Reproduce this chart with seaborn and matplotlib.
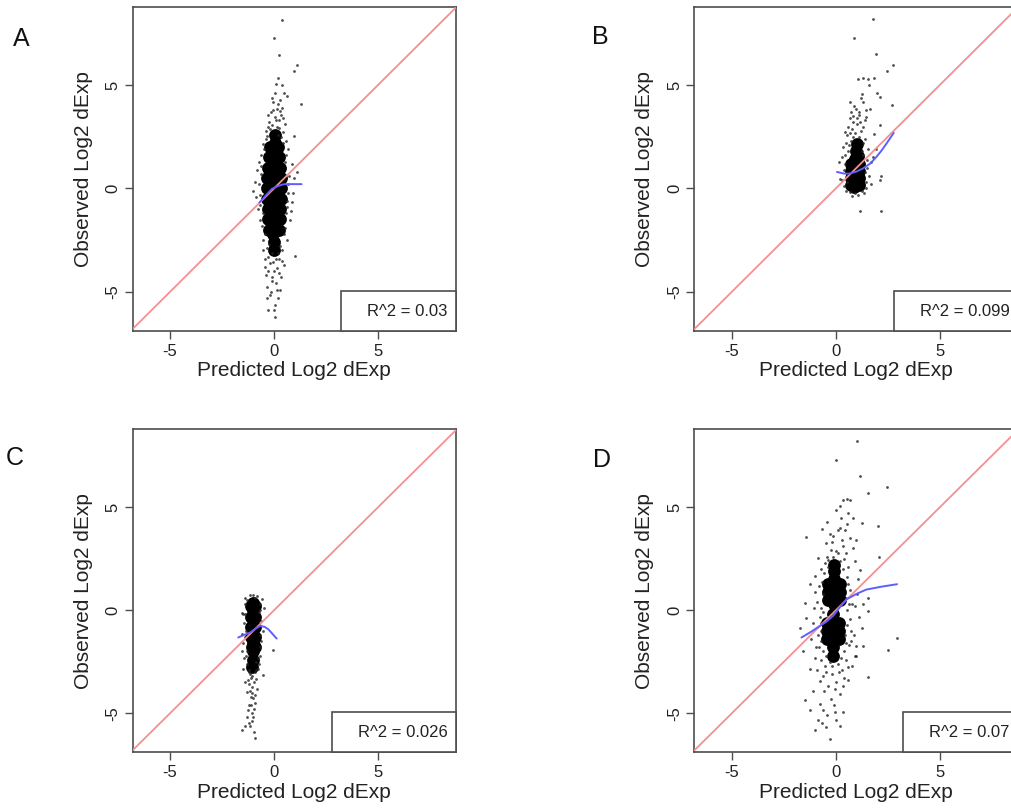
import matplotlib
matplotlib.use("Agg")
import matplotlib.pyplot as plt
import seaborn as sns
import pandas as pd
from matplotlib.patches import Rectangle
from matplotlib.transforms import offset_copy

# ---------------------------------------------------------------- data
panel_letters = ["A", "B", "C", "D"]
r2_labels = ["R^2 = 0.03", "R^2 = 0.099", "R^2 = 0.026", "R^2 = 0.07"]
ticks = [-5, 0, 5]

# dense centre of each cloud (predicted, observed)
a_core = [(0.0, -3.0), (0.0, -2.6), (-0.05, -2.2), (0.0, -1.8), (0.0, -1.4), (0.0, -1.0),
          (0.0, -0.6), (0.0, -0.2), (0.0, 0.2), (0.0, 0.6), (0.0, 1.0), (0.0, 1.4), (0.0, 1.8),
          (0.05, 2.2), (0.05, 2.6),
          (-0.25, -2.0), (-0.28, -1.5), (-0.3, -1.0), (-0.33, -0.5), (-0.33, 0.0), (-0.33, 0.5),
          (-0.3, 1.0), (-0.25, 1.5), (-0.18, 2.0),
          (0.25, -2.0), (0.28, -1.5), (0.3, -1.0), (0.33, -0.5), (0.33, 0.0), (0.33, 0.5),
          (0.3, 1.0), (0.25, 1.5), (0.2, 2.0)]
b_core = [(0.9, 0.05), (0.9, 0.4), (0.9, 0.75), (0.92, 1.1), (0.95, 1.45), (0.97, 1.8), (1.0, 2.15),
          (0.72, 0.15), (0.72, 0.5), (0.72, 0.85), (0.75, 1.2),
          (1.1, 0.15), (1.1, 0.5), (1.1, 0.85), (1.1, 1.2), (1.08, 1.55)]
c_core = [(-1.0, 0.35), (-1.0, 0.0), (-1.0, -0.4), (-1.0, -0.8), (-1.0, -1.2), (-1.0, -1.6),
          (-1.0, -2.0), (-1.0, -2.4), (-1.05, -2.75),
          (-1.1, 0.2), (-1.1, -0.3), (-1.1, -0.8), (-1.1, -1.3), (-1.08, -1.8),
          (-0.9, 0.2), (-0.9, -0.3), (-0.9, -0.8), (-0.9, -1.3), (-0.92, -1.8)]
d_core = [(-0.1, 0.3), (-0.1, 0.7), (-0.1, 1.1), (-0.1, 1.5), (-0.1, 1.9), (-0.38, 0.5),
          (-0.38, 0.9), (-0.38, 1.3), (0.2, 0.5), (0.2, 0.9), (0.2, 1.3), (-0.1, 2.2),
          (-0.15, -0.2), (-0.15, -0.6), (-0.15, -1.0), (-0.15, -1.4), (-0.15, -1.8),
          (-0.42, -0.6), (-0.42, -1.0), (-0.42, -1.4), (0.15, -0.6), (0.15, -1.0), (0.15, -1.4),
          (-0.15, -2.2)]

# sparser genes around each centre
a_pts = [(0.37, 8.18), (0.02, 7.28), (0.24, 6.47), (1.09, 5.96), (0.96, 5.67), (1.30, 4.07),
         (0.96, 2.54), (0.21, 5.34), (0.10, 5.07), (0.37, 4.99), (0.48, 4.64), (-0.03, 4.18),
         (0.16, 3.86), (-0.30, 3.54), (0.26, 3.30), (-0.11, 3.06), (-0.51, 2.17), (0.45, 2.73),
         (0.64, 4.50), (0.05, 4.60), (0.30, 4.30), (-0.15, 3.70), (0.40, 3.90), (0.05, 3.45),
         (-0.25, 3.20), (0.35, 3.55), (0.55, 3.10), (-0.40, 2.80), (0.15, 3.00), (0.60, 2.30),
         (-0.60, 1.60), (0.70, 1.90), (-0.35, 2.55), (0.25, 2.95), (-0.10, 4.40), (0.20, 4.10),
         (-0.80, 0.90), (0.85, 1.20), (-0.90, 0.30), (0.95, 0.50), (-0.85, -0.40), (0.90, -0.20),
         (-0.75, -1.00), (0.80, -1.10), (0.65, -0.90), (-0.70, 1.30), (1.10, 0.80), (-1.00, -0.10),
         (1.01, -3.27), (-0.43, -3.79), (0.13, -3.86), (-0.11, -4.27), (-0.35, -4.75),
         (0.29, -4.91), (-0.19, -5.15), (0.05, -5.64), (-0.27, -5.88), (0.05, -6.20),
         (-0.51, -2.98), (-0.54, -2.50), (0.61, -2.50), (0.53, -1.93), (0.77, -1.53),
         (-0.67, -1.53), (0.85, -0.65), (-0.30, -3.30), (0.25, -3.40), (0.40, -3.00),
         (-0.20, -3.60), (0.00, -4.00), (0.35, -4.30), (-0.40, -4.20), (0.10, -4.60),
         (-0.15, -5.00), (0.20, -5.30), (-0.45, -3.40), (0.50, -3.70), (0.30, -2.80),
         (-0.25, -2.70), (-0.62, 0.70), (0.66, 0.20), (-0.66, -0.30), (0.62, -0.60),
         (-0.55, -1.20), (0.55, 1.30), (-0.50, 1.90), (0.45, 2.20), (-0.45, -2.20), (0.50, -2.20),
         (-0.20, 2.90), (0.20, 2.60), (0.10, -3.40), (-0.10, -3.10), (-0.70, 0.20),
         (0.72, 0.60), (-0.68, -0.80), (0.70, -0.20), (-0.60, 1.10), (0.60, 1.60),
         (-0.58, -1.80), (0.58, -1.20), (-0.40, 2.40), (0.35, 2.50), (-0.30, 3.00),
         (0.10, 3.30), (0.45, 3.40), (-0.05, 3.80), (0.30, 3.75), (-0.35, -2.90),
         (0.20, -3.10), (-0.05, -3.55), (0.40, -3.50), (-0.30, -4.00), (0.25, -4.10),
         (-0.10, -4.50), (0.15, -4.90), (-0.35, -5.30), (0.00, -5.90)]
b_pts = [(1.80, 8.20), (0.87, 7.30), (1.92, 6.50), (2.47, 5.70), (2.76, 5.96), (1.15, -1.08),
         (2.20, -1.08), (1.07, 5.28), (1.31, 5.34), (1.55, 5.28), (1.83, 5.34), (1.60, 4.99),
         (1.24, 4.59), (1.31, 4.18), (1.99, 4.64), (2.12, 4.43), (2.73, 4.06), (1.12, 3.54),
         (0.83, 3.22), (1.48, 3.46), (1.63, 3.86), (0.43, 2.73), (2.12, 3.06), (1.83, 2.66),
         (0.67, 4.18), (0.99, 3.86), (0.16, 1.29), (0.19, 0.48), (2.20, 0.61), (2.12, 0.40),
         (1.72, 1.29), (1.96, 1.93), (1.07, -0.32), (0.67, -0.16), (0.40, 0.90), (0.45, 1.60),
         (0.35, 2.00), (1.45, 0.30), (1.50, 1.00), (1.55, 1.90), (1.40, 2.40), (0.55, 2.60),
         (1.20, 2.80), (0.80, 2.90), (1.00, 3.10), (0.70, 3.40), (1.30, 3.00), (0.50, -0.10),
         (1.35, -0.20), (0.80, -0.35), (1.60, 0.60), (0.30, 0.40), (1.70, 0.20), (0.60, 3.00),
         (1.10, 3.70), (0.90, 4.00), (1.45, 3.80), (1.20, 4.40), (0.75, 2.30), (1.30, 2.20),
         (1.50, 1.40), (0.45, 1.20), (1.80, 1.50), (0.30, 1.50), (0.60, 1.80), (1.25, 1.80),
         (0.85, 2.50), (1.10, 2.50), (0.50, 2.20), (1.40, 0.80), (0.95, -0.20), (1.25, -0.10),
         (0.55, 0.30), (1.00, 3.40), (0.75, 3.70), (1.40, 3.30), (0.40, 0.10), (1.45, 0.00),
         (0.62, 2.10), (1.32, 1.60), (0.95, 2.70), (0.70, 2.70), (1.15, 3.20), (0.85, 3.50)]
c_pts = [(-0.91, -6.20), (-1.55, -5.80), (-1.39, -5.64), (-1.19, -5.48), (-1.07, -5.00),
         (-1.24, -4.84), (-1.00, -4.28), (-1.31, -3.96), (-1.07, -3.72), (-1.39, -3.48),
         (-0.87, -3.32), (-1.15, -3.08), (-0.75, -2.84), (-1.48, -2.84), (-0.03, -1.91),
         (-0.51, -3.16), (-1.55, -1.15), (-1.55, -0.11), (-0.59, 0.53), (-1.39, 0.61),
         (-1.15, 0.77), (-0.83, 0.72), (-1.45, -2.30), (-0.65, -2.20), (-1.50, -1.60),
         (-0.60, -1.50), (-1.45, -0.60), (-0.60, -0.50), (-1.40, 0.30), (-0.65, 0.30),
         (-0.55, -1.00), (-1.55, -2.00), (-0.70, -2.60), (-1.30, -2.60), (-1.20, -3.00),
         (-0.95, -3.50), (-1.15, -3.90), (-0.90, -4.50), (-1.20, -4.60), (-1.00, -5.20),
         (-1.30, -5.20), (-0.80, -3.80), (-1.10, -4.20), (-0.95, -5.90), (-1.50, -0.20),
         (-0.50, 0.10), (-1.00, 0.75), (-0.90, 0.60), (-1.30, 0.50), (-0.70, -0.10),
         (-1.35, -1.00), (-0.65, -1.80), (-1.35, -2.20), (-0.85, -2.50), (-1.10, -3.30),
         (-0.90, -3.00), (-1.25, -3.40), (-1.05, -4.00), (-0.95, -4.80), (-1.15, -5.60),
         (-1.40, -1.30), (-0.68, -1.20), (-1.38, -0.20), (-0.66, 0.00), (-1.30, -2.00),
         (-0.75, -2.30), (-1.20, -2.90), (-0.85, -2.90), (-1.05, -3.20), (-1.20, -3.60),
         (-0.92, -4.10), (-1.12, -4.60), (-1.05, -5.40)]
d_pts = [(1.00, 8.23), (0.00, 7.29), (1.19, 6.52), (2.47, 6.00), (1.55, 5.72), (-1.44, 3.56),
         (2.03, 4.10), (2.08, 2.59), (0.35, 5.36), (0.54, 5.39), (0.71, 5.36), (0.19, 5.07),
         (0.03, 4.88), (0.83, 4.48), (0.59, 4.72), (1.24, 4.24), (-0.64, 3.95), (0.19, 4.00),
         (0.43, 3.91), (-0.13, 3.59), (0.67, 3.51), (0.99, 3.43), (-0.45, 3.27), (-0.21, 2.95),
         (0.35, 3.11), (0.83, 3.03), (0.11, 2.78), (-0.85, 2.54), (-0.37, 2.46), (0.91, 2.38),
         (1.15, 1.98), (-1.01, 1.66), (-1.25, 1.26), (1.07, 1.50),
         (2.95, -1.35), (2.52, -1.93), (1.55, -3.22), (1.31, -1.72), (0.99, -1.72),
         (-1.49, -4.38), (-1.25, -4.86), (-1.01, -5.83), (-0.29, -6.23), (-0.45, -5.67),
         (-0.61, -4.86), (-0.05, -4.94), (0.35, -4.94), (-0.85, -5.35), (0.03, -5.35),
         (-0.77, -4.54), (-0.21, -4.30), (-1.09, -3.90), (0.19, -4.06), (-0.37, -3.66),
         (-0.77, -3.42), (0.03, -3.49), (-1.25, -2.85), (0.59, -2.77), (-1.57, -1.97),
         (0.75, -1.48), (1.24, -0.84), (1.55, -0.03), (1.55, 0.61), (-1.41, -0.35),
         (-1.49, 0.37), (-1.73, -0.84), (0.99, -2.21),
         (-0.70, 2.00), (0.60, 2.10), (-0.80, 1.20), (0.70, 1.00), (-0.90, 0.40), (0.80, 0.30),
         (-0.75, -0.30), (0.70, -0.40), (-0.85, -1.20), (0.75, -1.00), (-0.80, -1.80),
         (0.65, -1.70), (-0.70, -2.40), (0.50, -2.40), (-0.50, -2.70), (0.30, -2.90),
         (-0.20, -3.10), (-0.60, -3.20), (0.40, -3.30), (-0.30, -2.50), (0.10, -2.60),
         (-0.40, 2.60), (0.40, 2.50), (0.00, 2.90), (-0.20, 3.30), (0.30, 3.40), (-0.55, 1.80),
         (0.55, 1.60), (1.00, 0.80), (-1.00, 0.90), (1.10, -0.30), (-1.10, -0.60), (0.95, -2.20),
         (-1.00, -2.30), (-0.90, -2.90), (0.80, -2.70), (-0.60, -0.10), (0.55, 0.00),
         (1.30, 0.30), (-1.20, -1.40), (-0.62, 0.80), (0.50, 0.60), (-0.70, -1.00),
         (0.45, -1.20), (-0.60, -2.00), (0.40, -2.00), (-0.35, 2.10), (0.35, 2.00),
         (-0.50, 2.30), (0.20, 2.40), (-0.15, 2.60), (0.50, 2.80), (-0.65, 1.40), (0.60, 1.30),
         (-0.72, 0.10), (0.65, 0.30), (-0.70, -0.60), (0.55, -0.70), (-0.72, -1.50),
         (0.50, -1.60), (-0.45, -2.20), (0.25, -2.30), (-0.20, -2.70), (0.15, -3.00),
         (-0.45, -3.00), (-0.05, -3.80), (0.35, -3.70), (-0.55, -3.90), (0.60, -3.40),
         (-0.95, -1.80), (0.90, -1.20), (-1.05, 0.10), (0.95, 0.20), (-0.30, 3.70),
         (0.10, 3.90), (0.55, 4.20), (-0.40, 4.30), (0.25, 4.50), (-0.10, -4.60),
         (-0.40, -5.10), (0.20, -5.60), (-0.65, -5.50)]

# loess trend of observed on predicted
a_fit_x = [-0.70, -0.40, -0.10, 0.20, 0.45, 0.80, 1.33]
a_fit_y = [-0.68, -0.35, -0.02, 0.12, 0.20, 0.21, 0.21]
b_fit_x = [0.06, 0.40, 0.67, 1.00, 1.31, 1.65, 1.96, 2.20, 2.44, 2.79]
b_fit_y = [0.80, 0.72, 0.72, 0.82, 0.97, 1.20, 1.53, 1.83, 2.17, 2.69]
c_fit_x = [-1.72, -1.45, -1.15, -0.90, -0.67, -0.45, -0.27, 0.13]
c_fit_y = [-1.32, -1.20, -1.08, -0.90, -0.76, -0.80, -0.92, -1.37]
d_fit_x = [-1.65, -1.20, -0.77, -0.45, -0.13, 0.20, 0.51, 1.00, 1.47, 2.20, 2.95]
d_fit_y = [-1.32, -1.05, -0.76, -0.55, -0.27, 0.15, 0.53, 0.80, 1.01, 1.15, 1.27]

cores = [a_core, b_core, c_core, d_core]
points = [a_pts, b_pts, c_pts, d_pts]
fits = [(a_fit_x, a_fit_y), (b_fit_x, b_fit_y), (c_fit_x, c_fit_y), (d_fit_x, d_fit_y)]

# ---------------------------------------------------------------- style
sns.set_style("ticks")
plt.rcParams["font.family"] = ["Liberation Sans", "DejaVu Sans"]
plt.rcParams["axes.unicode_minus"] = False
frame_col = "#4d4d4d"
text_col = "#222222"

W, H = 1012, 811
fig = plt.figure(figsize=(W / 100, H / 100), dpi=100)

# axes boxes in pixels: left, top, width, height
boxes = [(132.7, 6.7, 323, 324.3), (694.5, 6.7, 323, 324.3),
         (132.7, 429.3, 323, 323), (694.5, 429.3, 323, 323)]
letter_pos = [(21, 39), (600, 37), (15, 458), (602, 460)]

xlim = (-6.8, 8.75)
ylim = (-6.9, 8.8)

renderer = fig.canvas.get_renderer()

for i in range(4):
    l, t, w, h = boxes[i]
    ax = fig.add_axes([l / W, 1 - (t + h) / H, w / W, h / H])

    core = pd.DataFrame(cores[i], columns=["pred", "obs"])
    pts = pd.DataFrame(points[i], columns=["pred", "obs"])

    sns.scatterplot(data=core, x="pred", y="obs", ax=ax, s=85, color="black",
                    linewidth=0, alpha=1.0, zorder=2)
    sns.scatterplot(data=pts, x="pred", y="obs", ax=ax, s=4, color="#222222",
                    linewidth=0, alpha=0.8, zorder=2)

    ax.axline((0, 0), slope=1, color="#f49090", lw=1.3, zorder=3)

    fx, fy = fits[i]
    sns.lineplot(x=fx, y=fy, ax=ax, sort=False, estimator=None, color="#5e5eff",
                 lw=1.4, zorder=4)

    ax.set_xlim(*xlim)
    ax.set_ylim(*ylim)
    ax.set_xticks(ticks)
    ax.set_yticks(ticks)
    ax.tick_params(axis="both", direction="out", length=6, width=1.0, color=frame_col,
                   labelsize=12, labelcolor=text_col)
    ax.tick_params(axis="x", pad=3)
    ax.tick_params(axis="y", pad=3, labelrotation=90)
    for lab in ax.get_yticklabels():
        lab.set_va("center")
    for sp in ax.spines.values():
        sp.set_color(frame_col)
        sp.set_linewidth(1.2)
        sp.set_visible(True)

    ax.set_xlabel("Predicted Log2 dExp", fontsize=15, color=text_col, labelpad=2)
    ax.set_ylabel("Observed Log2 dExp", fontsize=15, color=text_col, labelpad=9)

    # R^2 legend box anchored in the lower right corner
    txt = ax.text(1.0, 0.0, r2_labels[i], fontsize=12, color=text_col,
                  ha="right", va="center", zorder=6,
                  transform=offset_copy(ax.transAxes, fig, x=-8, y=20, units="dots"))
    tw = txt.get_window_extent(renderer=renderer).width
    bw = (tw + 34) / w
    bh = 40 / h
    ax.add_patch(Rectangle((1 - bw, 0), bw, bh, transform=ax.transAxes, fill=True,
                           facecolor="white", edgecolor=frame_col, lw=1.2, zorder=5,
                           clip_on=False))

    lx, ly = letter_pos[i]
    fig.text(lx / W, 1 - ly / H, panel_letters[i], fontsize=18, color="#111111",
             ha="center", va="center")

fig.savefig("out.png", dpi=100)
